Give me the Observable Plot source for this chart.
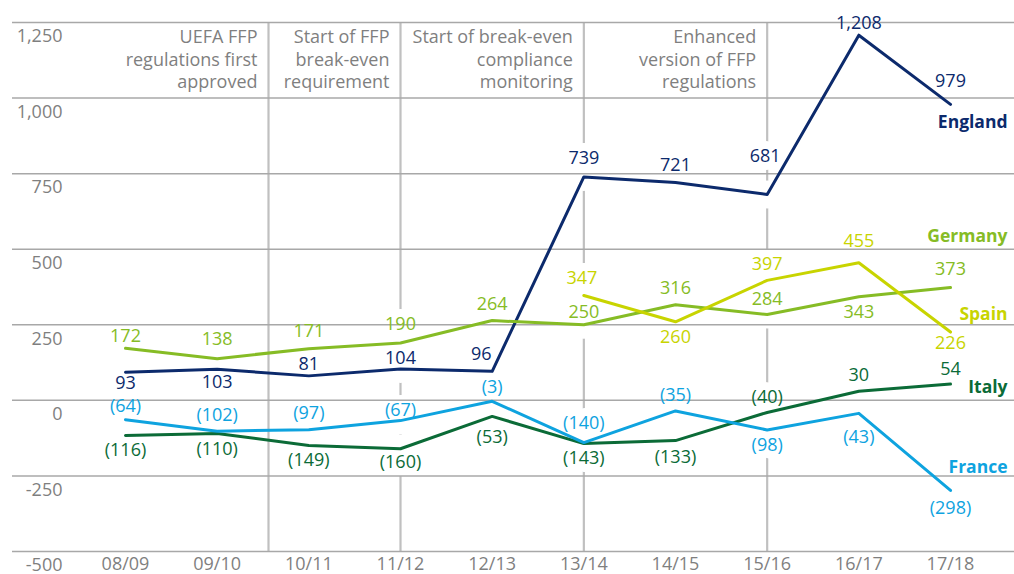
<!DOCTYPE html>
<html>
<head>
<meta charset="utf-8">
<script src="https://cdn.jsdelivr.net/npm/d3@7"></script>
<script src="https://cdn.jsdelivr.net/npm/@observablehq/plot@0.6"></script>
<style>
  html, body { margin: 0; padding: 0; background: #ffffff; }
  #chart svg { display: block; }
</style>
</head>
<body>
<div id="chart"></div>
<script>
// ---- data ----
const seasons = ["08/09","09/10","10/11","11/12","12/13","13/14","14/15","15/16","16/17","17/18"];
const seriesNames = ["England","Germany","Spain","Italy","France"];
const england = [93, 103, 81, 104, 96, 739, 721, 681, 1208, 979];
const germany = [172, 138, 171, 190, 264, 250, 316, 284, 343, 373];
const spain   = [null, null, null, null, null, 347, 260, 397, 455, 226];
const italy   = [-116, -110, -149, -160, -53, -143, -133, -40, 30, 54];
const france  = [-64, -102, -97, -67, -3, -140, -35, -98, -43, -298];
const yTicks = [1250, 1000, 750, 500, 250, 0, -250, -500];
const eventAt = [1.56, 3, 5, 7];
const eventText = [
  "UEFA FFP\nregulations first\napproved",
  "Start of FFP\nbreak-even\nrequirement",
  "Start of break-even\ncompliance\nmonitoring",
  "Enhanced\nversion of FFP\nregulations"
];

// ---- styling / layout (kept apart from data) ----
const seriesColors = ["#0c2a6c", "#86bc25", "#c8d400", "#0b6b37", "#0ea3df"];
const gray = "#7f7f7f";
const labelDy = [
  [11, 13, -12, -11, -17, -19, -17, -38, -12, -23],
  [-12, -19, -17, -19, -16, -13, -17, -15, 16, -18],
  [0, 0, 0, 0, 0, -17, 15, -16, -22, 11],
  [15, 16, 15, 14, 21, 15, 17, -15, -16, -15],
  [-13, -16, -16, -10, -14, -19, -16, 15, 24, 18]
];
const labelDx = [
  [0, 0, 0, 0, -11, 0, 0, -2, 0, 0],
  [0, 0, 0, 0, 0, 0, 0, 0, 0, 0],
  [0, 0, 0, 0, 0, -2, 0, 0, 0, 0],
  [0, 0, 0, 0, 0, 0, 0, 0, 0, 0],
  [0, 0, 0, 0, 0, 0, 0, 0, 0, 0]
];
const nameDy = [18, -51, -18, 3, -23];

// ---- build table ----
const seriesValues = [england, germany, spain, italy, france];
const rows = [];
seriesNames.forEach((s, k) => {
  seriesValues[k].forEach((v, i) => {
    if (v != null) rows.push({series: s, k, i, value: v, dy: labelDy[k][i], dx: labelDx[k][i]});
  });
});
const lastRows = seriesNames.map((s, k) => {
  const vals = seriesValues[k];
  return {series: s, k, i: vals.length - 1, value: vals[vals.length - 1]};
});

const fmt = d3.format(",");
const valueText = v => v < 0 ? `(${fmt(-v)})` : fmt(v);
const tickText = v => v < 0 ? `-${fmt(-v)}` : fmt(v);

const FONT = "'Open Sans', 'Noto Sans', sans-serif";

const maskLabels = rows.map(r => Plot.text([r], {
  x: "i", y: "value", text: d => valueText(d.value),
  dx: r.dx, dy: r.dy, fontSize: 18,
  fill: "white", stroke: "white", strokeWidth: 16
}));
const valueLabels = rows.map(r => Plot.text([r], {
  x: "i", y: "value", text: d => valueText(d.value),
  dx: r.dx, dy: r.dy, fontSize: 18,
  fill: "series"
}));
const nameLabels = lastRows.map(r => Plot.text([r], {
  x: "i", y: "value", text: "series",
  dx: 57, dy: nameDy[r.k], textAnchor: "end",
  fontSize: 17.5, fontWeight: "bold", fill: "series"
}));

const chart = Plot.plot({
  width: 1014,
  height: 574,
  marginLeft: 12,
  marginRight: 0,
  marginTop: 22,
  marginBottom: 23,
  style: {fontFamily: FONT, fontSize: "18px", background: "white"},
  x: {domain: [-1.2327, 9.698], axis: null, label: null},
  y: {domain: [-500, 1250], axis: null, label: null},
  color: {domain: seriesNames, range: seriesColors},
  marks: [
    Plot.ruleX(eventAt, {x: d => d, y1: -500, y2: 1250, stroke: "#c0c0c0", strokeWidth: 2.2}),
    Plot.dot(rows, {x: "i", y: "value", r: 14, fill: "white"}),
    ...maskLabels,
    Plot.ruleY(yTicks, {stroke: "#a8a8a8", strokeWidth: 1.5}),
    Plot.line(rows, {x: "i", y: "value", z: "series", stroke: "series", strokeWidth: 3}),
    ...valueLabels,
    ...nameLabels,
    Plot.text(eventText, {
      x: (d, i) => eventAt[i], y: 1250, text: d => d,
      textAnchor: "end", lineAnchor: "top", lineHeight: 1.25,
      dx: -11, dy: 5, fill: gray, fontSize: 18
    }),
    Plot.axisY({
      ticks: yTicks, tickSize: 0, tickPadding: 0, dx: 50, dy: 14,
      tickFormat: tickText, color: gray, fontSize: 18, label: null
    }),
    Plot.axisX({
      ticks: d3.range(seasons.length), tickSize: 0, tickPadding: 6,
      tickFormat: i => seasons[i], color: gray, fontSize: 18, label: null
    })
  ]
});
document.getElementById("chart").appendChild(chart);
</script>
</body>
</html>
